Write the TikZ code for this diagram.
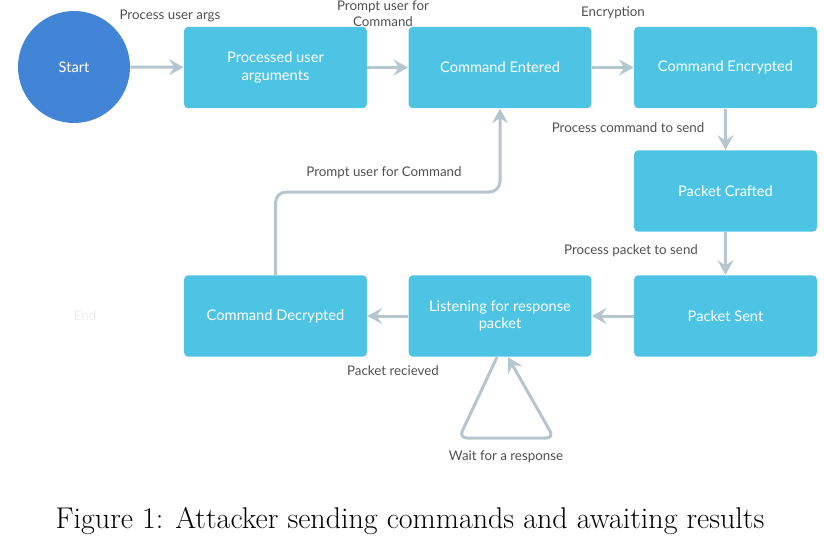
\documentclass[tikz,border=0pt]{standalone}
\usepackage{fontspec}
\newfontfamily\lato{Lato}
\usetikzlibrary{arrows.meta}

\definecolor{stepblue}{RGB}{78,196,228}
\definecolor{startblue}{RGB}{66,133,214}
\definecolor{flowgrey}{RGB}{182,198,206}
\definecolor{labelgrey}{RGB}{80,80,80}

\tikzset{every picture/.style={line width=0.75pt}}
\tikzset{
  statebox/.style={draw=none,fill=stepblue,rounded corners=3pt,minimum width=137pt,minimum height=61pt,
    text=white,align=center,font=\lato\fontsize{11}{13}\selectfont},
  flow/.style={draw=flowgrey,line width=2.25pt,-{Stealth[length=11pt,width=12pt,inset=4pt]}},
  flowlabel/.style={text=labelgrey,align=center,font=\lato\fontsize{10}{12}\selectfont}
}

\begin{document}
\begin{tikzpicture}[x=0.75pt,y=0.75pt,yscale=-1,xscale=1]
\useasboundingbox (0,0) rectangle (824,549);

%Shape: Circle [id:start]
\node [circle,fill=startblue,minimum size=84pt,text=white,font=\lato\fontsize{11}{13}\selectfont] (start) at (74,67) {Start};
%Shape: Rectangles
\node [statebox] (args) at (275.5,67.5) {Processed user\\arguments};
\node [statebox] (entered) at (500,67.5) {Command Entered};
\node [statebox] (encrypted) at (725.5,67.5) {Command Encrypted};
\node [statebox] (crafted) at (725.5,191) {Packet Crafted};
\node [statebox] (sent) at (725.5,316) {Packet Sent};
\node [statebox] (listen) at (500,316) {Listening for response\\packet};
\node [statebox] (decrypted) at (275.5,316) {Command Decrypted};
% Text Node
\node [text=black!7,font=\lato\fontsize{10}{12}\selectfont] (end) at (85,316) {End};

%Straight Lines
\draw [flow] (start) -- (args);
\draw [flow] (args) -- (entered);
\draw [flow] (entered) -- (encrypted);
\draw [flow] (encrypted) -- (crafted);
\draw [flow] (crafted) -- (sent);
\draw [flow] (sent) -- (listen);
\draw [flow] (listen) -- (decrypted);
%Elbow back to the command
\draw [flow,rounded corners=8pt] (decrypted.north) -- (decrypted.north |- 0,192) -| (entered.south);
%Self loop
\coordinate (loopL) at (459,438);
\coordinate (loopR) at (554,438);
\draw [flow,rounded corners=6pt] ([xshift=-2.25pt]listen.south) -- (loopL) -- (loopR) -- ([xshift=6pt]listen.south);

% Text Node
\node [flowlabel] (l1) at (170,16) {Process user args};
% Text Node
\node [flowlabel] (l2) at (383,14) {Prompt user for\\Command};
% Text Node
\node [flowlabel] (l3) at (613,13) {Encryption};
% Text Node
\node [flowlabel] (l4) at (628,128) {Process command to send};
% Text Node
\node [flowlabel] (l5) at (631,251) {Process packet to send};
% Text Node
\node [flowlabel] (l6) at (393,371) {Packet recieved};
% Text Node
\node [flowlabel] (l7) at (384,173) {Prompt user for Command};
% Text Node
\node [flowlabel] (l8) at (506,457) {Wait for a response};

% Caption
\node [font=\fontsize{22.5}{27}\selectfont] (caption) at (410,521) {Figure 1: Attacker sending commands and awaiting results};

\end{tikzpicture}
\end{document}
